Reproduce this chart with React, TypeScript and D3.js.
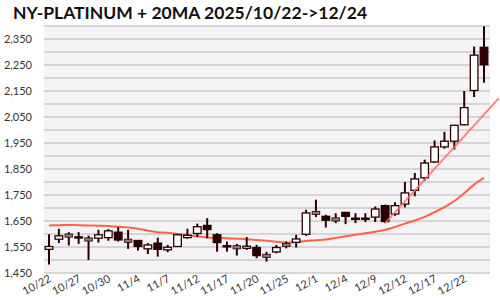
import React from "react";
import * as d3 from "d3";

const dates = ["10/22","10/23","10/24","10/27","10/28","10/29","10/30","10/31","11/3","11/4","11/5","11/6","11/7","11/10","11/11","11/12","11/13","11/14","11/17","11/18","11/19","11/20","11/21","11/24","11/25","11/26","11/28","12/1","12/2","12/3","12/4","12/5","12/8","12/9","12/10","12/11","12/12","12/15","12/16","12/17","12/18","12/19","12/22","12/23","12/24"];

const opens  = [1541,1580,1594,1589,1579,1584,1586,1607,1574,1575,1543,1565,1539,1552,1586,1602,1633,1597,1555,1549,1545,1548,1516,1531,1558,1568,1599,1681,1668,1656,1683,1661,1661,1665,1709,1677,1715,1768,1816,1877,1935,1957,2020,2152,2318];
const highs  = [1599,1620,1607,1607,1594,1616,1619,1626,1616,1577,1565,1586,1558,1601,1620,1640,1661,1603,1571,1562,1588,1558,1532,1558,1571,1597,1693,1732,1674,1680,1685,1680,1680,1706,1713,1722,1800,1835,1886,1960,1993,2020,2150,2321,2399];
const lows   = [1483,1565,1556,1562,1500,1567,1574,1571,1543,1536,1523,1513,1530,1550,1582,1588,1584,1532,1532,1517,1539,1507,1494,1526,1545,1548,1593,1665,1625,1642,1638,1642,1646,1646,1642,1670,1702,1745,1805,1873,1928,1925,2018,2127,2182];
const closes = [1552,1593,1594,1587,1579,1597,1612,1577,1574,1552,1558,1541,1549,1597,1595,1628,1617,1567,1553,1549,1553,1517,1516,1548,1558,1581,1681,1681,1653,1656,1668,1659,1659,1696,1648,1709,1758,1812,1873,1935,1957,2018,2086,2288,2251];

const ma20 = [1633,1634,1635,1634,1633,1632,1631,1628,1625,1620,1613,1607,1605,1600,1596,1591,1587,1585,1584,1582,1580,1577,1574,1570,1567,1569,1573,1576,1579,1585,1591,1597,1603,1609,1616,1627,1640,1652,1666,1684,1703,1727,1757,1790,1816];

const trendIdx = [34, 45.5];
const trendVal = [1642, 2122];

const yTicks = [1450,1550,1650,1750,1850,1950,2050,2150,2250,2350];
const gridVals = d3.range(1450, 2401, 50);
const tickIdx = d3.range(0, dates.length, 3);

export default function App() {
  const W = 500, H = 300;
  const plotL = 44, plotR = 490;
  const x = d3.scaleLinear().domain([0, dates.length - 1]).range([49, 484]);
  const y = d3.scaleLinear().domain([1450, 2400]).range([273, 26]);
  const bw = 7.6;
  const dark = "#2a0000";
  const gray = "#8c7c7e";

  const maLine = d3.line<number>().x((_, i) => x(i)).y(d => y(d)).curve(d3.curveMonotoneX);
  const trendPts = trendIdx.map((t, i) => [x(t), y(trendVal[i])] as [number, number]);
  const trendLine = d3.line()(trendPts);

  return (
    <svg width={W} height={H} style={{ position: "absolute", left: 0, top: 0, background: "#fff" }}
      fontFamily="Lato, 'Open Sans', sans-serif">
      <text x={13} y={19} fontSize={17.5} fontWeight={700} fill="#111">NY-PLATINUM + 20MA 2025/10/22-&gt;12/24</text>
      <rect x={plotL} y={y(2400)} width={plotR - plotL} height={y(1450) - y(2400)} fill="#f5f3f6" />
      {gridVals.map(v => (
        <line key={v} x1={plotL} x2={plotR} y1={y(v)} y2={y(v)} stroke="#cbcbcb" strokeWidth={1.5} />
      ))}
      {yTicks.map(v => (
        <text key={v} x={32} y={y(v)} dy="0.4em" textAnchor="end" fontSize={11} fill="#333">{d3.format(",")(v)}</text>
      ))}
      {tickIdx.map(i => (
        <text key={i} transform={`translate(${x(i) + 3},${281}) rotate(-28)`} textAnchor="end" fontSize={11} fill="#333">{dates[i]}</text>
      ))}
      <path d={maLine(ma20) || ""} fill="none" stroke="#ff6347" strokeWidth={2} />
      {dates.map((d, i) => {
        const o = opens[i], c = closes[i], h = highs[i], l = lows[i];
        const cx = x(i);
        const up = c > o;
        const flat = c === o;
        let top = y(Math.max(o, c));
        let bot = y(Math.min(o, c));
        if (flat) { top = y(o) - 1.6; bot = y(o) + 1.6; }
        const bh = Math.max(bot - top, 1.2);
        return (
          <g key={d}>
            <line x1={cx} x2={cx} y1={y(h)} y2={y(l)} stroke={dark} strokeWidth={2} />
            <rect x={cx - bw / 2} y={top} width={bw} height={bh}
              fill={flat ? gray : up ? "#ffffff" : dark}
              stroke={dark} strokeWidth={flat ? 0.8 : 1.3} />
          </g>
        );
      })}
      <path d={trendLine || ""} fill="none" stroke="#ff6b6b" strokeOpacity={0.8} strokeWidth={2} />
    </svg>
  );
}
